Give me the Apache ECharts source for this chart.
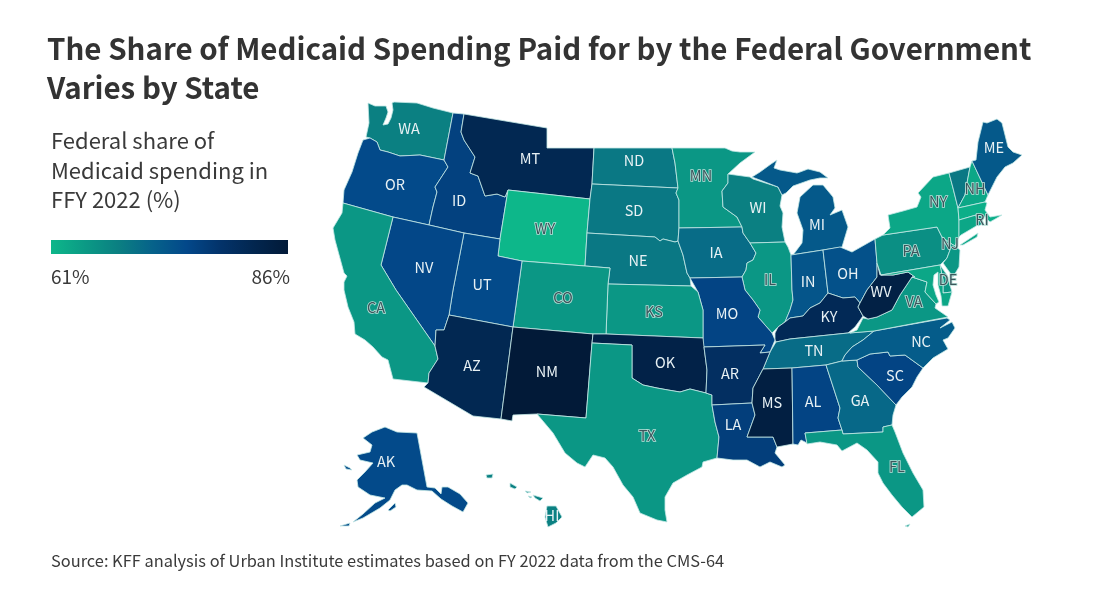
<!DOCTYPE html>
<html><head><meta charset="utf-8">
<style>html,body{margin:0;padding:0;background:#fff}#c{width:1095px;height:600px}</style>
<script src="https://cdn.jsdelivr.net/npm/echarts@6/dist/echarts.min.js"></script>
</head><body><div id="c"></div>
<script>
const titleText = 'The Share of Medicaid Spending Paid for by the Federal Government\nVaries by State';
const legendTitle = 'Federal share of\nMedicaid spending in\nFFY 2022 (%)';
const sourceText = 'Source: KFF analysis of Urban Institute estimates based on FY 2022 data from the CMS-64';
const scaleMin = 61, scaleMax = 86;
const colorStops = ['#0db78a','#0b9a85','#0b7f82','#06628a','#03488a','#03336a','#02264f','#021a38'];

const states = ['AL','AK','AZ','AR','CA','CO','CT','DE','FL','GA','HI','ID','IL','IN','IA','KS','KY','LA','ME','MD','MA','MI','MN','MS','MO','MT','NE','NV','NH','NJ','NM','NY','NC','ND','OH','OK','OR','PA','RI','SC','SD','TN','TX','UT','VT','VA','WA','WV','WI','WY'];
const shares = [76,75,82,80,65,65,63,65,65,71,68,76.5,65,73.5,70.5,65,81.5,77,73,63,62,73,65,84.5,76,82,69,75.5,63,65,86,63,72.5,69,74,83.5,75,66,65,76,69,70.5,65,75,69,65,68,84,68,61];
const unlabelled = ['CT','MD','MA','VT'];

// Hand-traced outlines of the states (map geometry)
const outlines = {
WA:[[[368,103],[375,106],[386,106],[388,112],[386,118],[383,125],[388,124],[391,118],[393,110],[392,103],[394,102],[417,103],[433,108],[453,113],[444,160],[420,155],[400,156],[388,152],[380,150],[377,142],[370,138],[366,137],[369,123]]],
OR:[[[370,138],[377,142],[380,150],[388,152],[400,156],[420,155],[444,160],[448,167],[435,187],[437,192],[433,207],[429,225],[393,217],[343,203],[344,190],[352,172],[358,153],[363,140]]],
ID:[[[453,113],[464,114],[461,132],[464,140],[475,157],[470,173],[478,176],[485,196],[497,194],[505,197],[508,190],[500,239],[464,233],[429,225],[433,207],[437,192],[435,187],[448,167],[444,160]]],
MT:[[[464,114],[547,128],[547,148],[594,148],[592,184],[590,199],[508,190],[505,197],[497,194],[485,196],[478,176],[470,173],[475,157],[464,140],[461,132]]],
WY:[[[508,190],[590,199],[587,233],[585,266],[522,261],[498,256],[500,239]]],
ND:[[[594,148],[672,148],[675,163],[678,188],[592,184]]],
SD:[[[592,184],[678,188],[676,193],[679,200],[679,228],[678,241],[675,242],[663,239],[660,241],[655,237],[587,233],[590,199]]],
NE:[[[587,233],[655,237],[660,241],[663,239],[675,242],[678,241],[683,255],[687,273],[690,278],[691,286],[608,284],[610,268],[585,266]]],
MN:[[[672,148],[725,148],[732,151],[740,152],[755,152],[740,163],[728,174],[728,183],[722,191],[723,207],[737,217],[742,227],[679,228],[679,200],[676,193],[678,188],[675,163]]],
IA:[[[679,228],[742,227],[743,233],[750,243],[756,253],[753,260],[747,263],[746,270],[742,277],[690,278],[687,273],[683,255],[678,241]]],
WI:[[[728,174],[750,177],[753,179],[778,187],[782,195],[780,206],[783,213],[782,227],[785,242],[750,243],[743,233],[742,227],[737,217],[723,207],[722,191],[728,183]]],
IL:[[[750,243],[785,242],[788,247],[791,255],[792,290],[793,300],[790,310],[785,322],[778,327],[772,333],[758,317],[760,310],[753,300],[745,290],[742,277],[746,270],[747,263],[753,260],[756,253]]],
MI:[[[752,177],[760,172],[771,164],[777,160],[774,168],[780,170],[797,173],[800,172],[808,169],[820,172],[828,178],[820,178],[810,180],[793,186],[786,193],[782,195],[778,187]],
    [[813,185],[823,185],[833,197],[835,208],[830,215],[842,210],[848,227],[842,247],[823,250],[791,255],[793,255],[802,243],[803,230],[797,213],[800,197]]],
IN:[[[791,255],[823,250],[828,293],[820,303],[810,308],[803,316],[790,318],[785,322],[790,310],[793,300],[792,290]]],
OH:[[[823,250],[840,247],[852,252],[875,239],[877,263],[877,277],[867,290],[860,303],[855,297],[843,298],[828,293]]],
KY:[[[775,333],[778,327],[785,322],[790,318],[803,316],[810,308],[820,303],[828,293],[843,298],[855,297],[860,303],[858,307],[863,316],[855,327],[848,333],[790,339],[776,342],[775,340]]],
TN:[[[776,342],[790,339],[848,333],[874,331],[863,340],[852,347],[845,355],[842,361],[826,365],[792,368],[763,369],[770,352]]],
MO:[[[690,278],[742,277],[745,290],[753,300],[760,310],[758,317],[772,333],[775,340],[770,352],[760,353],[765,345],[703,347],[703,310],[698,292]]],
KS:[[[608,284],[691,286],[698,292],[703,310],[703,338],[606,334]]],
CO:[[[522,261],[585,266],[610,268],[608,284],[606,334],[593,334],[513,327]]],
UT:[[[464,233],[500,239],[498,256],[522,261],[513,327],[449,315],[453,290]]],
NV:[[[393,217],[429,225],[464,233],[453,290],[449,315],[444,330],[436,330],[435,346],[396,290],[381,265]]],
CA:[[[343,203],[393,217],[381,265],[396,290],[435,346],[438,359],[429,373],[428,383],[393,379],[388,360],[382,357],[373,347],[365,340],[355,334],[354,322],[348,307],[344,290],[344,282],[347,276],[344,273],[335,240],[333,228],[342,213]]],
AZ:[[[449,315],[513,327],[501,419],[473,416],[424,387],[428,383],[429,373],[438,359],[435,346],[436,330],[444,330]]],
NM:[[[513,327],[593,334],[592,343],[586,418],[537,414],[513,415],[512,421],[501,419]]],
OK:[[[593,334],[606,334],[703,338],[704,347],[707,370],[706,393],[690,389],[680,392],[668,390],[657,388],[643,385],[632,378],[632,345],[592,343]]],
TX:[[[592,343],[632,345],[632,378],[643,385],[657,388],[668,390],[680,392],[690,389],[706,393],[712,395],[712,405],[715,422],[719,437],[717,458],[703,462],[702,467],[687,475],[673,483],[665,497],[665,510],[667,522],[657,520],[640,513],[633,497],[623,485],[613,467],[605,458],[593,455],[585,467],[577,463],[565,453],[553,433],[537,414],[586,418]]],
AR:[[[704,347],[765,345],[760,353],[770,352],[763,369],[753,388],[752,403],[712,405],[712,395],[706,393],[707,370]]],
LA:[[[712,405],[752,403],[755,415],[747,437],[773,437],[777,447],[775,453],[785,465],[782,467],[770,462],[760,467],[747,460],[733,460],[717,458],[719,437],[715,422]]],
MS:[[[763,369],[792,368],[793,444],[777,447],[773,437],[747,437],[755,415],[752,403],[753,388]]],
AL:[[[792,368],[826,365],[840,408],[838,418],[842,430],[805,433],[807,443],[801,440],[798,445],[793,444]]],
GA:[[[826,365],[842,361],[857,360],[858,367],[877,385],[896,405],[893,415],[892,425],[883,427],[883,432],[843,434],[842,430],[838,418],[840,408]]],
FL:[[[805,433],[842,430],[843,434],[883,432],[883,427],[892,425],[895,432],[903,453],[913,473],[923,490],[924,507],[912,517],[902,507],[892,495],[883,483],[878,473],[878,462],[867,450],[857,443],[842,451],[837,445],[820,442],[807,444]],
    [[905,526],[910,524],[908,527]]],
SC:[[[857,360],[870,354],[888,352],[890,356],[905,355],[923,368],[917,377],[912,387],[902,397],[896,405],[877,385],[858,367]]],
NC:[[[874,331],[947,318],[950,320],[940,328],[952,322],[955,328],[948,338],[943,340],[948,349],[933,358],[923,368],[905,355],[890,356],[888,352],[870,354],[857,360],[842,361],[845,355],[852,347],[863,340]]],
VA:[[[850,333],[857,330],[863,318],[868,319],[877,317],[892,310],[900,295],[912,277],[927,282],[925,292],[936,304],[935,308],[948,317],[947,318],[874,331]]],
WV:[[[877,263],[880,275],[893,275],[908,272],[915,277],[912,277],[900,295],[892,310],[877,317],[868,319],[863,316],[858,307],[860,303],[867,290],[877,277]]],
PA:[[[875,239],[883,235],[937,227],[942,237],[950,250],[947,258],[940,265],[881,275],[877,263]]],
NY:[[[883,235],[890,228],[888,215],[903,211],[917,207],[921,197],[918,193],[933,177],[949,173],[953,188],[958,208],[959,220],[959,237],[955,246],[950,243],[942,237],[937,227]],
    [[960,245],[978,233],[977,237],[963,245]]],
NJ:[[[942,237],[950,243],[955,246],[960,250],[959,267],[953,277],[943,263],[947,258],[950,250]]],
DE:[[[940,265],[947,275],[952,292],[943,293],[943,280]]],
MD:[[[881,275],[940,265],[943,280],[943,293],[952,292],[948,306],[942,306],[941,296],[938,285],[938,272],[934,275],[933,285],[936,295],[939,302],[936,304],[925,292],[927,282],[912,277],[915,277],[908,272],[893,275]]],
VT:[[[949,173],[970,167],[967,183],[965,195],[958,208],[953,188]]],
NH:[[[970,167],[972,161],[988,195],[985,202],[958,208],[965,195],[967,183]]],
ME:[[[972,161],[976,160],[978,142],[983,122],[987,123],[997,119],[1002,123],[1008,147],[1013,152],[1022,155],[1013,163],[1005,167],[997,177],[988,195]]],
MA:[[[958,208],[985,202],[987,203],[985,210],[990,217],[1002,215],[997,218],[990,222],[985,217],[976,215],[959,220]]],
CT:[[[959,220],[976,215],[978,225],[961,235],[959,237]]],
RI:[[[976,215],[982,215],[983,224],[978,226]]],
AK:[[[385,427],[397,432],[417,433],[427,487],[435,488],[441,494],[442,487],[448,487],[460,494],[468,503],[463,512],[452,506],[441,499],[432,491],[417,490],[407,485],[402,485],[395,490],[390,500],[380,508],[363,518],[353,522],[363,514],[375,503],[385,498],[370,495],[358,487],[357,480],[365,472],[373,463],[360,460],[357,455],[370,452],[372,445],[363,438],[372,432]],
    [[388,510],[395,503],[396,507],[390,511]],[[344,465],[350,468],[352,470],[346,469]],[[340,526],[350,523],[349,526]]],
HI:[[[547,506],[556,506],[562,517],[556,523],[548,527],[545,517]],[[533,495],[543,498],[540,501],[535,498]],[[510,483],[517,487],[515,489],[510,487]],[[486,475],[493,474],[492,478],[487,478]],[[525,491],[531,492],[527,493]],[[528,496],[532,497],[530,498]]]
};
const labelAt = {WA:[409,128],OR:[395,184],CA:[376,307],NV:[424,267],ID:[459,200],MT:[530,158],WY:[545,228],UT:[482,284],AZ:[472,365],NM:[547,371],CO:[563,297],ND:[634,160],SD:[634,210],NE:[638,260],KS:[654,311],OK:[665,362],TX:[647,435],MN:[701,175],IA:[716,252],MO:[727,313],AR:[730,373],LA:[733,424],WI:[758,207],IL:[770,279],MS:[772,402],MI:[817,224],IN:[808,281],KY:[829,316],TN:[814,350],AL:[813,401],OH:[848,273],GA:[860,400],FL:[897,466],SC:[895,375],NC:[921,341],WV:[881,291],VA:[914,301],PA:[911,250],NY:[938,201],NJ:[950,243],DE:[948,279],RI:[982,219],NH:[975,188],ME:[994,147],AK:[386,461],HI:[552,515],CT:[968,226],MD:[905,282],MA:[972,211],VT:[959,187]};

const flip = ring => ring.map(p => [p[0], -p[1]]);
const features = Object.keys(outlines).map(code => ({
  type:'Feature',
  properties:{name:code, cp:[labelAt[code][0], -labelAt[code][1]]},
  geometry:{type:'MultiPolygon', coordinates: outlines[code].map(r => [flip(r)])}
}));
echarts.registerMap('usa', {type:'FeatureCollection', features});

let x0=1e9,x1=-1e9,y0=1e9,y1=-1e9;
Object.values(outlines).forEach(m=>m.forEach(r=>r.forEach(p=>{x0=Math.min(x0,p[0]);x1=Math.max(x1,p[0]);y0=Math.min(y0,p[1]);y1=Math.max(y1,p[1]);})));

const FONT = '"Noto Sans CJK SC","Noto Sans",sans-serif';
const DARK_LABEL_MAX = 66;
const seriesData = states.map((s,i)=>{
  const v = shares[i], dark = v <= DARK_LABEL_MAX, hide = unlabelled.includes(s);
  return {name:s, value:v, label:{show:!hide,
    color: dark ? '#3c565c' : '#e8f1f4',
    textBorderColor: dark ? '#b8e0d8' : 'transparent',
    textBorderWidth: dark ? 1.6 : 0}};
});

const chart = echarts.init(document.getElementById('c'), null, {renderer:'canvas'});
chart.setOption({
  animation:false,
  backgroundColor:'#fff',
  title:[
    {text:titleText,left:42,top:24,textStyle:{fontFamily:FONT,fontSize:29.5,fontWeight:700,color:'#333',lineHeight:39}},
    {text:legendTitle,left:46,top:121,textStyle:{fontFamily:FONT,fontSize:22,fontWeight:400,color:'#3a3a3a',lineHeight:29.5}},
    {text:scaleMin+'%',left:46,top:262,textStyle:{fontFamily:FONT,fontSize:19,fontWeight:400,color:'#3a3a3a'}},
    {text:scaleMax+'%',right:800,top:262,textStyle:{fontFamily:FONT,fontSize:19,fontWeight:400,color:'#3a3a3a'}},
    {text:sourceText,left:46,top:548,textStyle:{fontFamily:FONT,fontSize:16.4,fontWeight:400,color:'#3a3a3a'}}
  ],
  graphic:[{type:'rect',silent:true,shape:{x:51,y:240,width:237,height:14},
    style:{fill:new echarts.graphic.LinearGradient(0,0,1,0,colorStops.map((c,i)=>({offset:i/(colorStops.length-1),color:c})))}}],
  visualMap:{type:'continuous',show:false,min:scaleMin,max:scaleMax,inRange:{color:colorStops},seriesIndex:0},
  series:[{
    type:'map',map:'usa',aspectScale:1,roam:false,silent:true,
    left:x0,top:y0,width:x1-x0,height:y1-y0,
    itemStyle:{borderColor:'#c4e8e6',borderWidth:0.8,areaColor:'#0b9a85'},
    label:{show:true,fontFamily:FONT,fontSize:14.5,formatter:'{b}'},
    emphasis:{disabled:true},select:{disabled:true},
    data:seriesData
  }]
});
</script></body></html>
